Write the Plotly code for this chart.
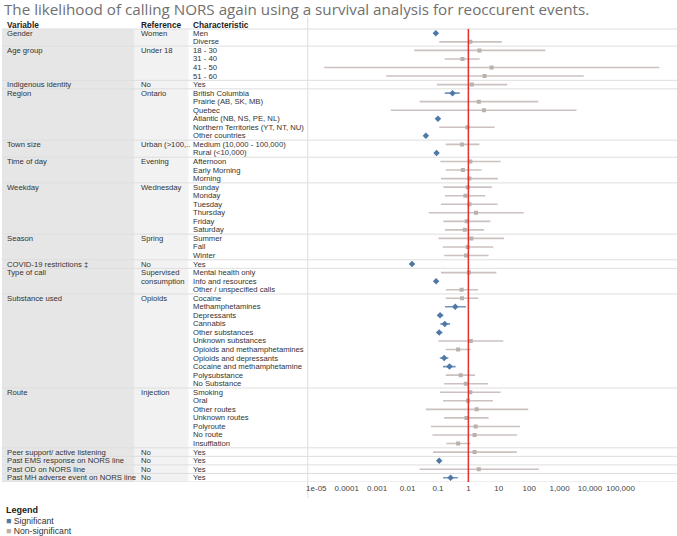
import plotly.graph_objects as go

# ---------------- DATA ----------------
variables = ["Gender", "Age group", "Indigenous identity", "Region", "Town size",
             "Time of day", "Weekday", "Season", "COVID-19 restrictions \u2021",
             "Type of call", "Substance used", "Route", "Peer support/ active listening",
             "Past EMS response on NORS line", "Past OD on NORS line",
             "Past MH adverse event on NORS line"]
references = [["Women"], ["Under 18"], ["No"], ["Ontario"], ["Urban (>100,.."],
              ["Evening"], ["Wednesday"], ["Spring"], ["No"],
              ["Supervised", "consumption"], ["Opioids"], ["Injection"],
              ["No"], ["No"], ["No"], ["No"]]
characteristics = [
    ["Men", "Diverse"],
    ["18 - 30", "31 - 40", "41 - 50", "51 - 60"],
    ["Yes"],
    ["British Columbia", "Prairie (AB, SK, MB)", "Quebec", "Atlantic (NB, NS, PE, NL)",
     "Northern Territories (YT, NT, NU)", "Other countries"],
    ["Medium (10,000 - 100,000)", "Rural (<10,000)"],
    ["Afternoon", "Early Morning", "Morning"],
    ["Sunday", "Monday", "Tuesday", "Thursday", "Friday", "Saturday"],
    ["Summer", "Fall", "Winter"],
    ["Yes"],
    ["Mental health only", "Info and resources", "Other / unspecified calls"],
    ["Cocaine", "Methamphetamines", "Depressants", "Cannabis", "Other substances",
     "Unknown substances", "Opioids and methamphetamines", "Opioids and depressants",
     "Cocaine and methamphetamine", "Polysubstance", "No Substance"],
    ["Smoking", "Oral", "Other routes", "Unknown routes", "Polyroute", "No route",
     "Insufflation"],
    ["Yes"], ["Yes"], ["Yes"], ["Yes"],
]
hazard_ratio = [0.085, 1.16,
                2.3, 0.64, 5.8, 3.4,
                1.3,
                0.30, 2.2, 3.25, 0.10, 0.93, 0.040,
                0.62, 0.09,
                1.16, 0.66, 1.08,
                0.95, 0.80, 1.08, 1.78, 0.88, 0.76,
                1.25, 0.95, 0.83,
                0.014,
                1.05, 0.087, 0.60,
                0.62, 0.37, 0.117, 0.167, 0.11, 1.2, 0.46, 0.16, 0.24, 0.56, 0.82,
                1.16, 0.97, 1.87, 0.86, 1.74, 1.6, 0.46,
                1.6, 0.11, 2.2, 0.26]
ci_low = [0.075, 0.11,
          0.0165, 0.167, 1.8e-5, 0.002,
          0.093,
          0.167, 0.025, 0.0028, 0.088, 0.11, 0.035,
          0.18, 0.08,
          0.12, 0.18, 0.126,
          0.15, 0.17, 0.126, 0.05, 0.15, 0.17,
          0.104, 0.144, 0.16,
          0.012,
          0.126, 0.077, 0.18,
          0.18, 0.17, 0.097, 0.12, 0.09, 0.104, 0.18, 0.115, 0.147, 0.18, 0.16,
          0.117, 0.147, 0.04, 0.16, 0.059, 0.066, 0.19,
          0.069, 0.095, 0.025, 0.147]
ci_high = [0.097, 12.6,
           340, 2.35, 1.9e6, 6200,
           19,
           0.52, 200, 3600, 0.114, 7.3, 0.046,
           2.3, 0.105,
           11.5, 2.7, 9.3,
           5.9, 3.6, 9.1, 66, 5.3, 3.3,
           15, 6.6, 4.6,
           0.016,
           8.3, 0.10, 2.1,
           2.1, 0.83, 0.15, 0.25, 0.14, 14, 1.19, 0.22, 0.38, 1.65, 4.4,
           11.5, 6.4, 93, 4.6, 50, 40, 1.16,
           39, 0.125, 205, 0.45]
significant = [hi < 1 or lo > 1 for lo, hi in zip(ci_low, ci_high)]
tick_values = [1e-5, 1e-4, 1e-3, 1e-2, 1e-1, 1, 10, 100, 1000, 10000, 100000]
tick_labels = ["1e-05", "0.0001", "0.001", "0.01", "0.1", "1", "10", "100",
               "1,000", "10,000", "100,000"]
title_text = "The likelihood of calling NORS again using a survival analysis for reoccurent events."
legend_labels = ["Significant", "Non-significant"]

# ---------------- LAYOUT CONSTANTS ----------------
W, H = 677, 536
TOP, BOTTOM = 17, 482
PLOT_LEFT = 306.7
X_LOG_RANGE = [-5.28, 6.86]
BLUE = "#4e79a7"
GREY = "#bab0ac"
BLUE_CI = "#7395c2"
GREY_CI = "#cbc2bf"
TXT = "#333333"
LINE = "#dedede"
FONT = "Liberation Sans, Arial, sans-serif"
TFS = 7.7

n_rows = len(hazard_ratio)
rows = list(range(n_rows))
y_top = -1.907
y_bottom = n_rows - 0.5


def py2paper(py):
    return (BOTTOM - py) / (BOTTOM - TOP)


def px2paper(px):
    return px / W


fig = go.Figure()

for flag, col, cicol, sym, size in [(True, BLUE, BLUE_CI, "diamond", 5),
                                    (False, GREY, GREY_CI, "square", 4)]:
    idx = [i for i in rows if significant[i] == flag]
    fig.add_trace(go.Scatter(
        x=[hazard_ratio[i] for i in idx],
        y=[i for i in idx],
        mode="markers",
        marker=dict(symbol=sym, size=size, color=col, line=dict(width=0)),
        error_x=dict(type="data", symmetric=False,
                     array=[ci_high[i] - hazard_ratio[i] for i in idx],
                     arrayminus=[hazard_ratio[i] - ci_low[i] for i in idx],
                     color=cicol, thickness=1.6, width=0),
        showlegend=False, hoverinfo="skip",
    ))

shapes = []
shapes.append(dict(type="rect", xref="paper", yref="y", x0=0, x1=px2paper(133),
                   y0=-0.5, y1=y_bottom, fillcolor="#e6e6e6", line=dict(width=0),
                   layer="below"))
shapes.append(dict(type="rect", xref="paper", yref="y", x0=px2paper(133),
                   x1=px2paper(187), y0=-0.5, y1=y_bottom, fillcolor="#f2f2f2",
                   line=dict(width=0), layer="below"))

annotations = []
start = 0
for g, var in enumerate(variables):
    shapes.append(dict(type="line", xref="paper", yref="y", x0=0, x1=1,
                       y0=start - 0.5, y1=start - 0.5, line=dict(color=LINE, width=1),
                       layer="below"))
    annotations.append(dict(x=px2paper(3), y=start, xref="paper", yref="y",
                            text=var, showarrow=False, xanchor="left",
                            font=dict(size=TFS, color=TXT, family=FONT)))
    for k, ref in enumerate(references[g]):
        annotations.append(dict(x=px2paper(137), y=start + k, xref="paper", yref="y",
                                text=ref, showarrow=False, xanchor="left",
                                font=dict(size=TFS, color=TXT, family=FONT)))
    for k, ch in enumerate(characteristics[g]):
        annotations.append(dict(x=px2paper(190), y=start + k, xref="paper", yref="y",
                                text=ch, showarrow=False, xanchor="left",
                                font=dict(size=TFS, color=TXT, family=FONT)))
    start += len(characteristics[g])
shapes.append(dict(type="line", xref="paper", yref="y", x0=0, x1=1,
                   y0=y_bottom, y1=y_bottom, line=dict(color=LINE, width=1),
                   layer="below"))

shapes.append(dict(type="line", xref="paper", yref="paper", x0=px2paper(PLOT_LEFT),
                   x1=px2paper(PLOT_LEFT), y0=py2paper(498), y1=py2paper(16.7),
                   line=dict(color=LINE, width=1), layer="below"))
shapes.append(dict(type="line", xref="x", yref="paper", x0=1, x1=1, y0=0,
                   y1=py2paper(29), line=dict(color="#e0312f", width=1.5)))

for txt, px in [("Variable", 3), ("Reference", 137), ("Characteristic", 190)]:
    annotations.append(dict(x=px2paper(px), y=-1, xref="paper", yref="y",
                            text="<b>" + txt + "</b>", showarrow=False,
                            xanchor="left",
                            font=dict(size=8.3, color="#222", family=FONT)))

annotations.append(dict(x=0, y=py2paper(9), xref="paper", yref="paper",
                        text=title_text, showarrow=False, xanchor="left",
                        yanchor="middle",
                        font=dict(size=15.2, color="#707070", family="Open Sans, sans-serif")))

annotations.append(dict(x=px2paper(2), y=py2paper(510), xref="paper", yref="paper",
                        text="<b>Legend</b>", showarrow=False, xanchor="left",
                        yanchor="middle", font=dict(size=9, color="#222", family=FONT)))
for k, (lab, col) in enumerate(zip(legend_labels, [BLUE, GREY])):
    annotations.append(dict(x=px2paper(2), y=py2paper(520.5 + 10 * k), xref="paper",
                            yref="paper",
                            text="<span style='color:%s'>\u25A0</span> %s" % (col, lab),
                            showarrow=False, xanchor="left", yanchor="middle",
                            font=dict(size=8.7, color=TXT, family=FONT)))

fig.update_layout(
    width=W, height=H,
    margin=dict(l=0, r=0, t=TOP, b=H - BOTTOM, pad=0),
    paper_bgcolor="white", plot_bgcolor="rgba(0,0,0,0)",
    shapes=shapes, annotations=annotations,
    xaxis=dict(type="log", domain=[px2paper(PLOT_LEFT), 1], range=X_LOG_RANGE,
               tickvals=tick_values, ticktext=tick_labels, showgrid=False,
               zeroline=False, showline=False, ticks="", tickangle=0,
               tickfont=dict(size=8, color="#444", family=FONT)),
    yaxis=dict(range=[y_bottom, y_top], showgrid=False, zeroline=False,
               showticklabels=False, showline=False, ticks=""),
)

fig.write_html("out.html", config={"displayModeBar": False},
               post_script="document.body.style.margin='0';document.body.style.overflow='hidden';")
